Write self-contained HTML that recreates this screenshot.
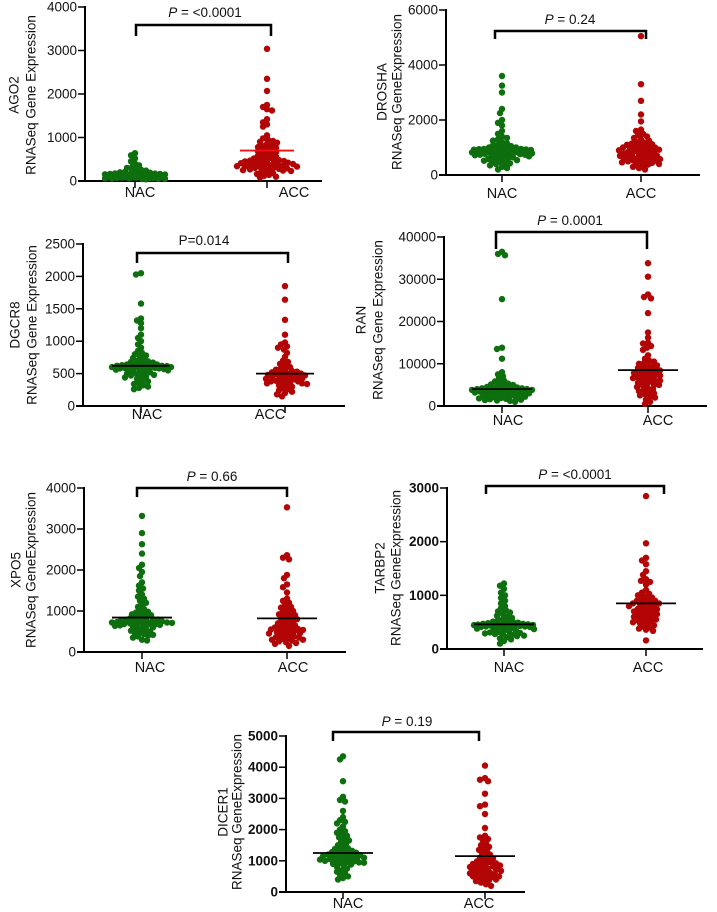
<!DOCTYPE html>
<html><head><meta charset="utf-8">
<style>
html,body{margin:0;padding:0;background:#fff;}
svg{display:block;font-family:"Liberation Sans",Arial,sans-serif;}
</style></head>
<body>
<svg id="fig" width="717" height="912" viewBox="0 0 717 912" xmlns="http://www.w3.org/2000/svg"></svg>
<script>
// ---------- DATA ----------
const groups = ["NAC","ACC"];
const ago2NAC = [640,590,520,450,400,360,320,300,280,260,240,220,210,200,190,180,175,170,165,160,155,150,150,145,140,140,135,130,130,125,125,120,120,120,115,115,110,110,110,105,105,100,100,100,95,95,90,90,90,85,85,80,80,75,75,70,70,65,60,60,55,50,50,45,40,160,150,140,130,120,110,100,130,140];
const ago2ACC = [3040,2350,2070,1750,1700,1650,1620,1420,1350,1300,1250,1050,980,950,920,900,880,850,820,800,780,760,740,720,700,680,660,640,620,600,580,560,540,520,500,480,470,460,450,440,430,420,410,400,390,380,370,360,350,340,330,320,310,300,290,280,270,260,250,240,230,220,200,180,160,140,120,100,80,520,480,420,380,340,300];
const droshaNAC = [3600,3250,3000,2400,2250,2000,1900,1800,1600,1500,1400,1350,1300,1250,1200,1150,1100,1080,1050,1020,1000,980,960,950,940,930,920,910,900,900,890,880,870,860,850,840,830,820,810,800,790,780,770,760,750,740,720,700,680,660,640,620,600,580,560,540,520,500,480,450,420,400,350,300,250,200,900,880,1000,950,850,820,780,740];
const droshaACC = [5050,3300,2700,2200,1950,1650,1600,1500,1450,1400,1350,1300,1250,1200,1180,1150,1120,1100,1080,1050,1030,1000,980,960,940,920,900,880,860,840,820,800,780,760,740,720,700,680,660,640,620,600,580,560,540,520,500,480,460,440,420,400,380,350,300,250,200,1000,900,700,600,500];
const dgcr8NAC = [2050,2030,1580,1350,1320,1280,1200,1100,1050,1000,950,900,850,820,800,780,760,740,720,700,690,680,670,660,650,640,630,620,615,610,605,600,595,590,585,580,575,570,560,550,540,530,520,510,500,490,480,470,460,450,440,420,400,380,360,340,320,300,280,260,600,620,580,640,560,610,590,630];
const dgcr8ACC = [1850,1640,1330,1100,980,950,920,900,870,820,760,700,680,650,620,600,580,560,550,540,530,520,510,500,490,480,470,460,450,440,430,420,410,400,390,380,370,360,350,340,330,320,300,280,260,240,220,200,180,150,450,420,380,350,500,480];
const ranNAC = [36500,36000,35700,25300,13800,13500,11200,8000,7500,7000,6500,6000,5800,5500,5300,5100,5000,4800,4600,4500,4400,4300,4200,4100,4000,4000,3900,3800,3700,3600,3500,3400,3300,3200,3100,3000,2900,2800,2700,2600,2500,2400,2300,2200,2100,2000,1900,1800,1700,1600,1500,1400,1300,1200,1000,4000,3800,3600,3400,4200,3200,3000];
const ranACC = [33800,30600,26400,25800,25500,22000,17400,16200,15000,14800,14200,13800,13300,12000,11200,10800,10500,10200,10000,9800,9600,9400,9200,9000,8800,8600,8400,8200,8000,7800,7600,7400,7200,7000,6800,6600,6400,6200,6000,5800,5500,5200,5000,4800,4500,4200,4000,3800,3500,3200,3000,2800,2500,2200,2000,1500,1000,500,8000,7000,6000,5000];
const xpo5NAC = [3320,2900,2630,2400,2130,2050,1950,1850,1700,1620,1550,1500,1400,1350,1300,1250,1200,1150,1100,1050,1000,980,960,940,920,900,880,860,840,820,800,790,780,770,760,750,740,730,720,710,700,690,680,670,660,650,640,620,600,580,560,540,520,500,480,460,440,420,400,380,350,300,280,750,700,800,650,720,680];
const xpo5ACC = [3530,2360,2300,2260,1880,1800,1650,1580,1450,1300,1250,1200,1150,1100,1080,1050,1000,980,950,920,900,880,850,820,800,780,750,720,700,680,650,620,600,580,560,540,520,500,480,460,440,420,400,380,360,340,320,300,280,260,240,220,200,150,600,550,500,450,350,300];
const tarbp2NAC = [1220,1180,1120,1050,1000,950,900,850,800,760,720,700,680,650,620,600,580,560,540,520,510,500,490,480,470,460,455,450,445,440,435,430,425,420,410,400,390,380,370,360,350,340,330,320,310,300,290,280,270,260,250,240,220,200,180,150,100,460,450,440,430,470,480,420,410];
const tarbp2ACC = [2850,1970,1700,1650,1580,1450,1380,1300,1270,1250,1200,1100,1050,1030,1000,980,960,940,920,900,880,860,850,840,820,800,780,760,740,720,700,680,660,640,620,600,580,560,540,520,500,480,460,440,420,400,380,360,340,160,900,850,800,750,700,650,600,550,500];
const dicer1NAC = [4350,4250,3550,3050,2950,2900,2600,2400,2300,2250,2200,2100,2000,1950,1900,1850,1800,1750,1700,1650,1600,1550,1500,1450,1400,1380,1350,1320,1300,1280,1260,1240,1220,1200,1180,1160,1140,1120,1100,1080,1060,1040,1020,1000,980,960,940,920,900,880,850,800,750,700,650,600,550,500,450,400,1100,1050,1000,950,1150,1200];
const dicer1ACC = [4050,3650,3600,3550,3150,2800,2750,2500,2050,1800,1750,1700,1650,1550,1500,1450,1400,1350,1300,1250,1200,1150,1100,1080,1050,1000,980,950,920,900,880,850,820,800,780,750,720,700,680,650,620,600,580,550,520,500,480,450,420,400,380,350,300,250,200,900,800,700,600,500];
const centerLines = {ago2:[null,700], drosha:[null,null], dgcr8:[620,500], ran:[4000,8500], xpo5:[840,820], tarbp2:[460,850], dicer1:[1250,1150]};
const ticksAgo2 = [0,1000,2000,3000,4000];
const ticksDrosha = [0,2000,4000,6000];
const ticksDgcr8 = [0,500,1000,1500,2000,2500];
const ticksRan = [0,10000,20000,30000,40000];
const ticksXpo5 = [0,1000,2000,3000,4000];
const ticksTarbp2 = [0,1000,2000,3000];
const ticksDicer1 = [0,1000,2000,3000,4000,5000];
const pLabels = {ago2:"<0.0001", drosha:"0.24", dgcr8:"P=0.014", ran:"0.0001", xpo5:"0.66", tarbp2:"<0.0001", dicer1:"0.19"};

// ---------- LAYOUT ----------
const panels = [
 {id:"ago2", gene:"AGO2", line2:"RNASeq Gene Expression", nac:ago2NAC, acc:ago2ACC, ticks:ticksAgo2, max:4000,
  ax:85, y0:181, yTop:7, xEnd:322, xN:135, xA:267, br:[136,271,25,36], pX:205, pY:17, lab1:15, lab2:32, labY:95,
  xlN:140, xlA:294, xlY:197, lineHalf:27, lineCol:"#ee1111", bold:false, italicP:true},
 {id:"drosha", gene:"DROSHA", line2:"RNASeq GeneExpression", nac:droshaNAC, acc:droshaACC, ticks:ticksDrosha, max:6000,
  ax:446, y0:175, yTop:10, xEnd:700, xN:502, xA:641, br:[495,646,31,39], pX:570, pY:24, lab1:383, lab2:398, labY:92,
  xlN:502, xlA:641, xlY:198, lineHalf:30, lineCol:"#000", bold:false, italicP:true},
 {id:"dgcr8", gene:"DGCR8", line2:"RNASeq Gene Expression", nac:dgcr8NAC, acc:dgcr8ACC, ticks:ticksDgcr8, max:2500,
  ax:83, y0:406, yTop:244, xEnd:345, xN:141, xA:285, br:[137,288,253,263], pX:204, pY:245, lab1:16, lab2:33, labY:325,
  xlN:147, xlA:270, xlY:419, lineHalf:29, lineCol:"#000", bold:false, italicP:false},
 {id:"ran", gene:"RAN", line2:"RNASeq Gene Expression", nac:ranNAC, acc:ranACC, ticks:ticksRan, max:40000,
  ax:444, y0:406, yTop:237, xEnd:707, xN:502, xA:648, br:[496,647,232,249], pX:570, pY:225, lab1:362, lab2:379, labY:320,
  xlN:508, xlA:658, xlY:425, lineHalf:30, lineCol:"#000", bold:false, italicP:true},
 {id:"xpo5", gene:"XPO5", line2:"RNASeq GeneExpression", nac:xpo5NAC, acc:xpo5ACC, ticks:ticksXpo5, max:4000,
  ax:84, y0:652, yTop:488, xEnd:346, xN:142, xA:287, br:[137,287,488,497], pX:212, pY:481, lab1:17, lab2:32, labY:570,
  xlN:150, xlA:293, xlY:672, lineHalf:30, lineCol:"#000", bold:false, italicP:true},
 {id:"tarbp2", gene:"TARBP2", line2:"RNASeq GeneExpression", nac:tarbp2NAC, acc:tarbp2ACC, ticks:ticksTarbp2, max:3000,
  ax:447, y0:649, yTop:488, xEnd:703, xN:504, xA:646, br:[486,664,486,494], pX:575, pY:479, lab1:381, lab2:397, labY:568,
  xlN:509, xlA:648, xlY:672, lineHalf:30, lineCol:"#000", bold:true, italicP:true},
 {id:"dicer1", gene:"DICER1", line2:"RNASeq GeneExpression", nac:dicer1NAC, acc:dicer1ACC, ticks:ticksDicer1, max:5000,
  ax:286, y0:892, yTop:736, xEnd:525, xN:343, xA:485, br:[333,479,732,741], pX:407, pY:726, lab1:224, lab2:238, labY:812,
  xlN:348, xlA:479, xlY:908, lineHalf:30, lineCol:"#000", bold:true, italicP:true}
];

const NS = "http://www.w3.org/2000/svg";
const svg = document.getElementById("fig");
function mk(tag, attrs, parent){ const e=document.createElementNS(NS,tag); for(const k in attrs) e.setAttribute(k,attrs[k]); (parent||svg).appendChild(e); return e; }

function swarm(vals, yScale, cx, r, half){
  const sorted = vals.map(v=>({v, y:yScale(v)})).sort((a,b)=>a.y-b.y);
  const placed = [];
  const minD = r*1.35;
  sorted.forEach(p=>{
    let best=null, bestScore=-1;
    for(let k=0;k<=half*2;k++){
      const off = (k%2===0?1:-1)*Math.ceil(k/2);
      let md = Infinity;
      for(const q of placed){ const d=Math.hypot(q.x-(cx+off), q.y-p.y); if(d<md) md=d; }
      if(md>=minD){ best=off; break; }
      if(md>bestScore){ bestScore=md; best=off; }
    }
    placed.push({x:cx+best, y:p.y, v:p.v});
  });
  return placed;
}

panels.forEach(P=>{
  const g = mk("g",{});
  
  
  const yScale = v => P.y0 - (v/P.max)*(P.y0-P.yTop);
  const fw = P.bold ? "bold" : "normal";
  const ya = mk("line",{x1:P.ax,y1:P.yTop-1,x2:P.ax,y2:P.y0+1,stroke:"#000","stroke-width":2},g);
  
  
  P.ticks.forEach(t=>{
    const y=yScale(t);
    mk("line",{x1:P.ax-7,y1:y,x2:P.ax,y2:y,stroke:"#000","stroke-width":1.5},g);
    const tl = mk("text",{x:P.ax-8,y:y+4.5,"text-anchor":"end","font-size":13.5,"font-weight":fw,fill:"#111"},g);
    tl.textContent=t;
    
    
  });
  const xa = mk("line",{x1:P.ax-7,y1:P.y0,x2:P.xEnd,y2:P.y0,stroke:"#000","stroke-width":2},g);
  
  
  [[P.xN,P.xlN,groups[0]],[P.xA,P.xlA,groups[1]]].forEach(([tx,lx,name])=>{
    mk("line",{x1:tx,y1:P.y0,x2:tx,y2:P.y0+7,stroke:"#000","stroke-width":1.5},g);
    const t = mk("text",{x:lx,y:P.xlY,"text-anchor":"middle","font-size":14.5,fill:"#111"},g);
    t.textContent=name;
    
    
  });
  [[P.lab1,P.gene],[P.lab2,P.line2]].forEach(([x,s],i)=>{
    const t = mk("text",{x:x,y:P.labY,"text-anchor":"middle","font-size":13.5,fill:"#111",transform:`rotate(-90 ${x} ${P.labY})`,"dominant-baseline":"middle"},g);
    t.textContent=s;
    
    
  });
  const [bx1,bx2,by,byl]=P.br;
  const br = mk("path",{d:`M${bx1} ${byl}V${by}H${bx2}V${byl}`,fill:"none",stroke:"#000","stroke-width":2.5},g);
  
  
  const pt = mk("text",{x:P.pX,y:P.pY,"text-anchor":"middle","font-size":13.5,fill:"#111"},g);
  
  
  if(P.italicP){
    const ts1 = mk("tspan",{"font-style":"italic"},pt); ts1.textContent="P";
    const ts2 = mk("tspan",{},pt); ts2.textContent=" = "+pLabels[P.id];
  } else pt.textContent=pLabels[P.id];
  [[P.nac,P.xN,"#0d6f0d","nac"],[P.acc,P.xA,"#b30505","acc"]].forEach(([vals,cx,col,nm])=>{
    const pts = swarm(vals,yScale,cx,3.2,30);
    pts.forEach(p=>{
      const c = mk("circle",{cx:p.x.toFixed(1),cy:p.y.toFixed(1),r:3.2,fill:col},g);
      
      
    });
  });
  const cl = centerLines[P.id];
  [[cl[0],P.xN,"nac"],[cl[1],P.xA,"acc"]].forEach(([v,cx,nm])=>{
    if(v===null) return;
    const y=yScale(v);
    const l = mk("line",{x1:cx-P.lineHalf,y1:y,x2:cx+P.lineHalf,y2:y,stroke:P.lineCol,"stroke-width":1.8},g);
    
    
  });
});
</script>
</body></html>
